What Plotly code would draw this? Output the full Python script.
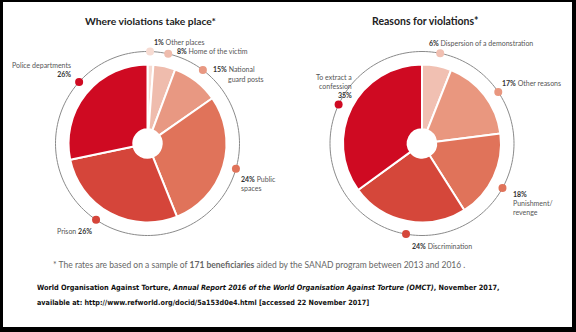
import plotly.graph_objects as go

W, H = 576, 332

# ---------------- data ----------------
left_title = "Where violations take place*"
left_cats = ["Other places", "Home of the victim", "National guard posts",
             "Public spaces", "Prison", "Police departments"]
left_pct = [1, 8, 15, 24, 26, 26]                 # stated percentages
left_share = [1.2, 4.5, 9.6, 28.6, 27.8, 28.3]    # slice sizes as drawn
left_colors = ["#f6dbd2", "#efbcad", "#e89882", "#e0735a", "#d5453a", "#cf0a22"]

right_title = "Reasons for violations*"
right_cats = ["Dispersion of a demonstration", "Other reasons", "Punishment/revenge",
              "Discrimination", "To extract a confession"]
right_pct = [6, 17, 18, 24, 35]
right_share = [6, 17, 18, 24, 35]
right_colors = ["#f1c0b2", "#e9977f", "#e0735a", "#d5473a", "#cf0a22"]

footnote = ("* The rates are based on a sample of <b>171 beneficiaries</b> aided by the "
            "SANAD program between 2013 and 2016 .")
cite1 = ("World Organisation Against Torture, <i>Annual Report 2016 of the World Organisation "
         "Against Torture (OMCT)</i>, November 2017,")
cite2 = "available at: http://www.refworld.org/docid/5a153d0e4.html [accessed 22 November 2017]"

# ---------------- layout helpers ----------------
def px(x):
    return x / W

def py(y):
    return 1 - y / H

centers = [(147.5, 143.5), (422.0, 143.5)]
PIE_R = 79
POLAR_R = 100
RING_R = 92

# dot angles on the ring (degrees clockwise from 12 o'clock)
left_dot_theta = [1.6, 13, 37, 106, 214, 312]
right_dot_theta = [11.4, 56, 119, 190, 295]

fig = go.Figure()

for i, (share, cats, cols) in enumerate([(left_share, left_cats, left_colors),
                                          (right_share, right_cats, right_colors)]):
    cx, cy = centers[i]
    fig.add_trace(go.Pie(
        values=share, labels=cats, sort=False, direction="clockwise", rotation=0,
        hole=0.18, textinfo="none", hoverinfo="label",
        marker=dict(colors=cols, line=dict(color="white", width=2)),
        domain=dict(x=[px(cx - PIE_R), px(cx + PIE_R)], y=[py(cy + PIE_R), py(cy - PIE_R)]),
        showlegend=False,
    ))

ring_theta = list(range(0, 361, 2))
for i, (thetas, cols) in enumerate([(left_dot_theta, left_colors), (right_dot_theta, right_colors)]):
    sub = "polar" if i == 0 else "polar2"
    fig.add_trace(go.Scatterpolar(r=[RING_R] * len(ring_theta), theta=ring_theta, mode="lines",
                                  line=dict(color="#8a8a8a", width=1), subplot=sub,
                                  showlegend=False, hoverinfo="skip"))
    fig.add_trace(go.Scatterpolar(r=[RING_R] * len(thetas), theta=thetas, mode="markers",
                                  marker=dict(color=cols, size=8), subplot=sub,
                                  showlegend=False, hoverinfo="skip"))

def polar_layout(cx, cy):
    return dict(
        domain=dict(x=[px(cx - POLAR_R), px(cx + POLAR_R)], y=[py(cy + POLAR_R), py(cy - POLAR_R)]),
        bgcolor="rgba(0,0,0,0)",
        radialaxis=dict(visible=False, range=[0, POLAR_R]),
        angularaxis=dict(visible=False, direction="clockwise", rotation=90),
    )

LBL = "Lato, 'Open Sans', sans-serif"
TXT = "#555555"
BCOL = "#333333"

def b(p):
    return f"<b><span style='color:{BCOL}'>{p}%</span></b>"

annos = []

def ann(text, x, y, xanchor="left", align="left", size=7, color=TXT, family=LBL):
    annos.append(dict(text=text, x=px(x), y=py(y), xref="paper", yref="paper",
                      xanchor=xanchor, yanchor="middle", align=align, showarrow=False,
                      font=dict(family=family, size=size, color=color)))

# titles
ann(f"<b>{left_title}</b>", 150, 21, xanchor="center", size=10.3, color="#222222")
ann(f"<b>{right_title}</b>", 425, 21, xanchor="center", size=10.5, color="#222222")

# left labels
ann(f"{b(left_pct[0])} Other places", 152, 42)
ann(f"{b(left_pct[1])} Home of the victim", 175, 51)
ann(f"{b(left_pct[2])} National", 211, 69)
ann("guard posts", 226, 79)
ann(f"Police departments<br>{b(left_pct[5])}", 73, 70, xanchor="right", align="right")
ann(f"{b(left_pct[3])} Public<br>spaces", 239, 183.5)
ann(f"Prison {b(left_pct[4])}", 55, 231)

# right labels
ann(f"{b(right_pct[0])} Dispersion of a demonstration", 427, 43)
ann(f"{b(right_pct[1])} Other reasons", 500, 83)
ann(f"To extract a<br>confession<br>{b(right_pct[4])}", 354, 86, xanchor="right", align="right")
ann(f"{b(right_pct[2])}<br>Punishment/<br>revenge", 511, 203)
ann(f"{b(right_pct[3])} Discrimination", 410, 246)

# footnote & citation
ann(footnote, 259, 265, xanchor="center", size=8.5, color="#666666")
CF = "'Liberation Sans Narrow', 'DejaVu Sans Condensed', 'Arial Narrow', sans-serif"
ann(f"<b>{cite1}</b>", 35, 287, size=7.3, color="#111111", family=CF)
ann(f"<b>{cite2}</b>", 35, 302, size=7.2, color="#111111", family=CF)

# frame
shapes = []
for x0, y0, x1, y1 in [(0, 0, 3, H), (0, 0, W, 2), (572, 0, W, H), (0, 327, W, H)]:
    shapes.append(dict(type="rect", xref="paper", yref="paper",
                       x0=px(x0), x1=px(x1), y0=py(y1), y1=py(y0),
                       fillcolor="#000000", line=dict(width=0)))

fig.update_layout(
    width=W, height=H, autosize=False,
    margin=dict(l=0, r=0, t=0, b=0),
    paper_bgcolor="white", plot_bgcolor="white",
    polar=polar_layout(*centers[0]),
    polar2=polar_layout(*centers[1]),
    annotations=annos, shapes=shapes,
    showlegend=False,
)

fig.write_html("out.html")
